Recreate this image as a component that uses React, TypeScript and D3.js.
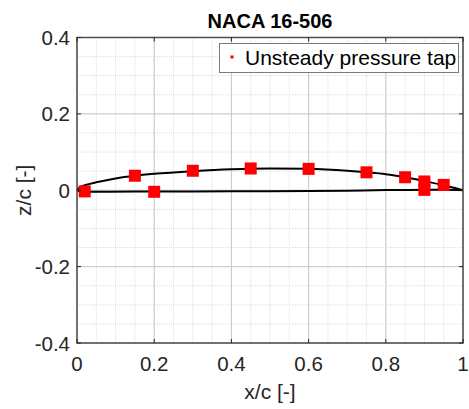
import React from "react";
import * as d3 from "d3";

// Airfoil surface (x/c, z/c)
const upperX = [0, 0.005, 0.0125, 0.025, 0.05, 0.1, 0.15, 0.2, 0.3, 0.4, 0.5, 0.6, 0.7, 0.75, 0.8, 0.85, 0.9, 0.95, 1.0];
const upperZ = [0, 0.006, 0.010, 0.0145, 0.021, 0.031, 0.038, 0.043, 0.050, 0.055, 0.057, 0.056, 0.051, 0.047, 0.042, 0.034, 0.024, 0.013, 0];
const lowerX = [0, 0.01, 0.05, 0.15, 0.3, 0.5, 0.7, 0.8, 0.9, 0.95, 1.0];
const lowerZ = [0, -0.003, -0.004, -0.0035, -0.003, -0.0025, -0.001, 0.0005, 0.001, 0.001, 0];

// Unsteady pressure taps
const tapX = [0.02, 0.15, 0.2, 0.3, 0.45, 0.6, 0.75, 0.85, 0.9, 0.9, 0.95];
const tapZ = [-0.003, 0.038, -0.004, 0.051, 0.057, 0.056, 0.047, 0.034, 0.023, 0.001, 0.014];

const xTicks = [0, 0.2, 0.4, 0.6, 0.8, 1];
const yTicks = [-0.4, -0.2, 0, 0.2, 0.4];
const xTickLabels = ["0", "0.2", "0.4", "0.6", "0.8", "1"];
const yTickLabels = ["-0.4", "-0.2", "0", "0.2", "0.4"];
const minorTicks = d3.range(0, 21).map((i) => i * 0.05);
const minorYTicks = d3.range(0, 17).map((i) => -0.4 + i * 0.05);

const title = "NACA 16-506";
const xLabel = "x/c [-]";
const yLabel = "z/c [-]";
const legendLabel = "Unsteady pressure tap";

export default function App() {
  const W = 469, H = 409;
  const L = 77, R = 463, T = 37.5, B = 343;
  const x = d3.scaleLinear().domain([0, 1]).range([L, R]);
  const y = d3.scaleLinear().domain([-0.4, 0.4]).range([B, T]);
  const line = d3
    .line<[number, number]>()
    .x((d) => x(d[0]))
    .y((d) => y(d[1]))
    .curve(d3.curveMonotoneX);
  const upper = upperX.map((v, i) => [v, upperZ[i]] as [number, number]);
  const lower = lowerX.map((v, i) => [v, lowerZ[i]] as [number, number]);
  const font = "'Liberation Sans', Arial, Helvetica, sans-serif";
  const axisColor = "#262626";
  const ms = 12;

  return (
    <svg width={W} height={H} style={{ position: "absolute", left: 0, top: 0 }} fontFamily={font}>
      <rect x={0} y={0} width={W} height={H} fill="#fff" />
      <rect x={L} y={T} width={R - L} height={B - T} fill="#fff" />
      {/* minor grid */}
      {minorTicks.map((t, i) => (
        <line key={"mx" + i} x1={x(t)} x2={x(t)} y1={T} y2={B} stroke="#dcdcdc" strokeWidth={1} strokeDasharray="1,1" />
      ))}
      {minorYTicks.map((t, i) => (
        <line key={"my" + i} x1={L} x2={R} y1={y(t)} y2={y(t)} stroke="#dcdcdc" strokeWidth={1} strokeDasharray="1,1" />
      ))}
      {/* major grid */}
      {xTicks.map((t, i) => (
        <line key={"gx" + i} x1={x(t)} x2={x(t)} y1={T} y2={B} stroke="#c8c8c8" strokeWidth={1} />
      ))}
      {yTicks.map((t, i) => (
        <line key={"gy" + i} x1={L} x2={R} y1={y(t)} y2={y(t)} stroke="#c8c8c8" strokeWidth={1} />
      ))}
      {/* airfoil */}
      <path d={line(upper) || ""} fill="none" stroke="#000" strokeWidth={2} />
      <path d={line(lower) || ""} fill="none" stroke="#000" strokeWidth={2} />
      {/* taps */}
      {tapX.map((v, i) => (
        <rect key={"tap" + i} x={x(v) - ms / 2} y={y(tapZ[i]) - ms / 2} width={ms} height={ms} fill="#ff0000" />
      ))}
      {/* frame */}
      <rect x={L} y={T} width={R - L} height={B - T} fill="none" stroke="#4d4d4d" strokeWidth={1.5} />
      {/* ticks */}
      {xTicks.map((t, i) => (
        <g key={"xt" + i}>
          <line x1={x(t)} x2={x(t)} y1={B} y2={B - 4} stroke={axisColor} />
          <line x1={x(t)} x2={x(t)} y1={T} y2={T + 4} stroke={axisColor} />
          <text x={x(t)} y={371} textAnchor="middle" fontSize={20.5} fill={axisColor}>
            {xTickLabels[i]}
          </text>
        </g>
      ))}
      {yTicks.map((t, i) => (
        <g key={"yt" + i}>
          <line x1={L} x2={L + 4} y1={y(t)} y2={y(t)} stroke={axisColor} />
          <line x1={R} x2={R - 4} y1={y(t)} y2={y(t)} stroke={axisColor} />
          <text x={70} y={y(t) + 7.5} textAnchor="end" fontSize={20.5} fill={axisColor}>
            {yTickLabels[i]}
          </text>
        </g>
      ))}
      {/* labels */}
      <text x={(L + R) / 2} y={28} textAnchor="middle" fontSize={20} fontWeight="bold" fill="#000">
        {title}
      </text>
      <text x={(L + R) / 2} y={399} textAnchor="middle" fontSize={21} fill={axisColor}>
        {xLabel}
      </text>
      <text transform={`translate(31, ${y(0)}) rotate(-90)`} textAnchor="middle" fontSize={21} fill={axisColor}>
        {yLabel}
      </text>
      {/* legend */}
      <rect x={219.5} y={43.5} width={239} height={29} fill="#fff" stroke="#7a7a7a" strokeWidth={1} />
      <rect x={230.5} y={55.5} width={3} height={3} fill="#ff0000" />
      <text x={245} y={65} fontSize={21} fill="#000">
        {legendLabel}
      </text>
    </svg>
  );
}
